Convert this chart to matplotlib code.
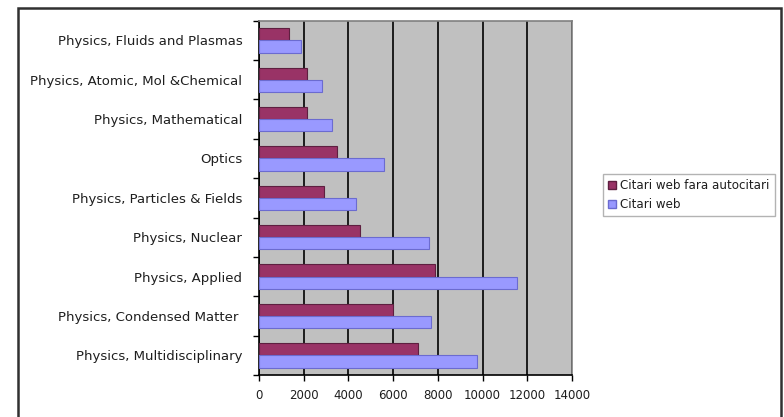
import matplotlib
matplotlib.use("Agg")
import matplotlib.pyplot as plt
import numpy as np
from matplotlib.patches import Rectangle, Patch

plt.rcParams['font.family'] = ['DejaVu Sans']

categories = [
    "Physics, Multidisciplinary",
    "Physics, Condensed Matter ",
    "Physics, Applied",
    "Physics, Nuclear",
    "Physics, Particles & Fields",
    "Optics",
    "Physics, Mathematical",
    "Physics, Atomic, Mol &Chemical",
    "Physics, Fluids and Plasmas",
]
citari_fara_autocitari = [7130, 5980, 7880, 4510, 2910, 3500, 2160, 2160, 1330]
citari_web = [9740, 7680, 11530, 7610, 4330, 5590, 3260, 2830, 1900]
x_ticks = [0, 2000, 4000, 6000, 8000, 10000, 12000, 14000]

W, H = 784, 417
fig = plt.figure(figsize=(W / 100, H / 100), dpi=100)
fig.patch.set_facecolor("white")

ax = fig.add_axes([259 / W, 1 - 375 / H, (572 - 259) / W, (375 - 20.7) / H])
ax.set_facecolor("#c0c0c0")

text_color = "#1e1e1e"
y = np.arange(len(categories))
h = 0.31
ax.barh(y + h / 2, citari_fara_autocitari, height=h, color="#993366",
        edgecolor="#5e1f40", linewidth=0.8, label="Citari web fara autocitari", zorder=3)
ax.barh(y - h / 2, citari_web, height=h, color="#9999ff",
        edgecolor="#6b6bd0", linewidth=0.8, label="Citari web", zorder=3)

ax.set_xlim(0, 14000)
ax.set_ylim(-0.5, len(categories) - 0.5)
ax.set_xticks(x_ticks)
ax.set_xticklabels([str(v) for v in x_ticks], fontsize=8.5, color=text_color)
ax.set_yticks(y)
ax.set_yticklabels(categories, fontsize=9.5, color=text_color)
ax.tick_params(axis="y", length=0, pad=12)
ax.set_yticks(np.arange(-0.5, len(categories)), minor=True)
ax.tick_params(axis="y", which="minor", length=4, width=1, color="black", direction="out")
ax.tick_params(axis="x", length=4, width=1, color="black", direction="out", pad=6)

ax.grid(axis="x", color="black", linewidth=1.2, zorder=1)
ax.set_axisbelow(True)
for side in ("top", "right"):
    ax.spines[side].set_color("#808080")
    ax.spines[side].set_linewidth(1.2)
for side in ("left", "bottom"):
    ax.spines[side].set_color("black")
    ax.spines[side].set_linewidth(1.2)

handles = [Patch(facecolor="#993366", edgecolor="#5e1f40", label="Citari web fara autocitari"),
           Patch(facecolor="#9999ff", edgecolor="#6b6bd0", label="Citari web")]
leg = fig.legend(handles=handles, loc="upper left",
                 bbox_to_anchor=(603 / W, 1 - 174 / H), fontsize=8.6,
                 frameon=True, fancybox=False, handlelength=0.65, handleheight=0.65,
                 handletextpad=0.35, borderpad=0.45, labelspacing=0.45, borderaxespad=0,
                 labelcolor=text_color)
leg.get_frame().set_edgecolor("#a0a0a0")
leg.get_frame().set_linewidth(1.0)

# outer chart frame
fig.add_artist(Rectangle((18 / W, -0.05), (781 - 18) / W, (417 - 8) / H + 0.05,
                         transform=fig.transFigure, fill=False,
                         edgecolor="#303030", linewidth=1.8))

fig.savefig("out.png", dpi=100)
